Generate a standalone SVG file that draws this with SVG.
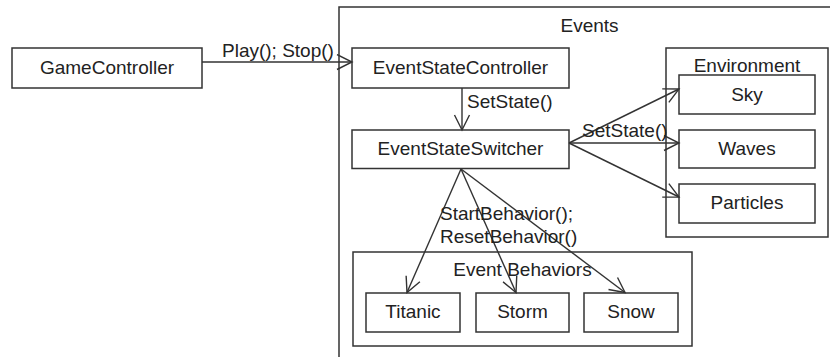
<svg xmlns="http://www.w3.org/2000/svg" width="830" height="357" viewBox="0 0 830 357">
<style>
.box{fill:#fff;stroke:#333;stroke-width:1.5}
.frame{fill:none;stroke:#333;stroke-width:1.5}
.t{font-family:"Liberation Sans",Arial,sans-serif;font-size:19px;fill:#222}
.c{text-anchor:middle}
.edge{fill:none;stroke:#333;stroke-width:1.4;marker-end:url(#open)}
</style>
<defs>
<marker id="open" markerUnits="userSpaceOnUse" markerWidth="18" markerHeight="18" viewBox="-1 -1 18 18" refX="15" refY="7.5" orient="auto">
<path d="M0,0 L15,7.5 L0,15" fill="none" stroke="#333" stroke-width="1.4"/>
</marker>
</defs>
<rect width="830" height="357" fill="#fff"/>

<g id="events">
<rect class="frame" x="339" y="7" width="520" height="370"/>
<text class="t c" x="589.5" y="32">Events</text>
</g>

<g id="environment">
<rect class="frame" x="666" y="48" width="162" height="189"/>
<text class="t c" x="747" y="72">Environment</text>
</g>

<g id="event-behaviors">
<rect class="frame" x="353" y="252" width="339" height="94"/>
<text class="t c" x="522.5" y="276">Event Behaviors</text>
</g>

<g id="gamecontroller">
<rect class="box" x="12" y="48" width="190" height="40"/>
<text class="t c" x="107" y="74">GameController</text>
</g>

<g id="eventstatecontroller">
<rect class="box" x="352" y="48" width="217" height="40"/>
<text class="t c" x="460.5" y="74">EventStateController</text>
</g>

<g id="eventstateswitcher">
<rect class="box" x="352" y="130" width="217" height="38.5"/>
<text class="t c" x="460.5" y="155">EventStateSwitcher</text>
</g>

<g id="sky">
<rect class="box" x="679" y="75" width="136" height="39"/>
<text class="t c" x="747" y="101">Sky</text>
</g>

<g id="waves">
<rect class="box" x="679" y="130" width="136" height="38"/>
<text class="t c" x="747" y="155">Waves</text>
</g>

<g id="particles">
<rect class="box" x="679" y="184" width="136" height="39"/>
<text class="t c" x="747" y="209">Particles</text>
</g>

<g id="titanic">
<rect class="box" x="366" y="293" width="94" height="39"/>
<text class="t c" x="413" y="318">Titanic</text>
</g>

<g id="storm">
<rect class="box" x="476" y="293" width="93" height="39"/>
<text class="t c" x="522.5" y="318">Storm</text>
</g>

<g id="snow">
<rect class="box" x="584" y="293" width="94" height="39"/>
<text class="t c" x="631" y="318">Snow</text>
</g>

<g id="connectors">
<path class="edge" d="M202,62 L352,62"/>
<text class="t" x="222" y="57">Play(); Stop()</text>
<path class="edge" d="M462,88 L462,130"/>
<text class="t" x="467" y="108">SetState()</text>
<path class="edge" d="M569,143 L679,89"/>
<path class="edge" d="M569,143 L679,143"/>
<path class="edge" d="M569,143 L679,197"/>
<text class="t" x="582" y="137">SetState()</text>
<path class="edge" d="M461,169 L407,292.5"/>
<path class="edge" d="M461,169 L516,292.5"/>
<path class="edge" d="M461,169 L625,292.5"/>
<text class="t" x="440" y="220">StartBehavior();</text>
<text class="t" x="440" y="243">ResetBehavior()</text>
</g>
</svg>
